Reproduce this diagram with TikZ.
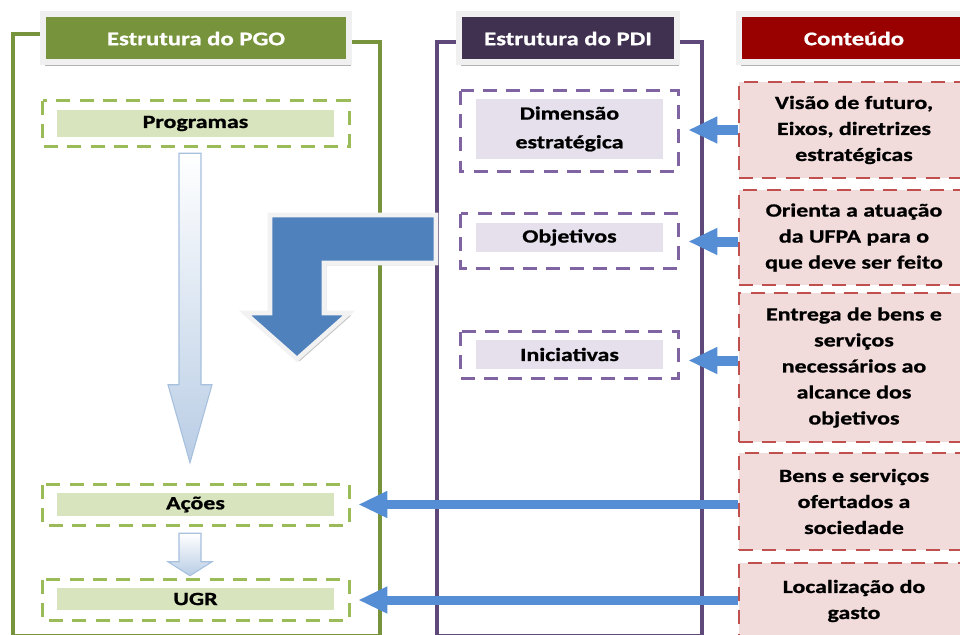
\documentclass[tikz,border=0pt]{standalone}
\usepackage{fontspec}
\setmainfont{Carlito}[FakeStretch=1.28,FakeBold=0.9]
\usetikzlibrary{arrows.meta,shadows,calc}
\definecolor{pgogreen}{HTML}{77933C}
\definecolor{lgreen}{HTML}{D7E4BD}
\definecolor{dgreen}{HTML}{9BBB59}
\definecolor{pdihead}{HTML}{403151}
\definecolor{pframe}{HTML}{5F497A}
\definecolor{lpurple}{HTML}{E5E0EC}
\definecolor{dpurple}{HTML}{8064A2}
\definecolor{redhead}{HTML}{990000}
\definecolor{lpink}{HTML}{F2DCDB}
\definecolor{dred}{HTML}{C0504D}
\definecolor{ablue}{HTML}{558ED5}
\definecolor{bentblue}{HTML}{4F81BD}
\definecolor{gradblue}{HTML}{B9CDE5}
\definecolor{gradline}{HTML}{A7C0DE}
\newcommand\bodyf{\fontsize{14}{19.5}\selectfont\bfseries}
\newcommand\hdrf{\fontsize{14.5}{17}\selectfont\bfseries}
\begin{document}
\begin{tikzpicture}[x=0.75pt,y=-0.75pt,
  gframeline/.style={draw=pgogreen,line width=2.4pt},
  pframeline/.style={draw=pframe,line width=2.4pt},
  hdr/.style={draw=black!6,line width=4.5pt,minimum height=36pt,inner sep=0pt,
    text=white,font=\hdrf,
    drop shadow={shadow xshift=1.5pt,shadow yshift=-2.5pt,fill=black,opacity=0.3}},
  gin/.style={fill=lgreen,minimum width=207.75pt,inner sep=0pt,font=\bodyf},
  pin/.style={fill=lpurple,minimum width=140.25pt,inner sep=0pt,font=\bodyf,align=center},
  gdash/.style={draw=dgreen,line width=2.2pt,dash pattern=on 10.5pt off 7pt},
  pdash/.style={draw=dpurple,line width=2.2pt,dash pattern=on 10.5pt off 7pt},
  cbox/.style={draw=dred,fill=lpink,line width=2.2pt,dash pattern=on 10.5pt off 7pt,
    minimum width=172.5pt,inner sep=0pt,align=center,font=\bodyf},
  sarrow/.style={draw=ablue,line width=7.5pt,-{Triangle[length=21.75pt,width=18.75pt]}},
  larrow/.style={draw=ablue,line width=6.75pt,-{Triangle[length=21.75pt,width=18.75pt]}},
  vgrad/.style={draw=gradline,line width=0.8pt,top color=white,bottom color=gradblue},
]
\clip (0,0) rectangle (960,635);
\fill[white] (0,0) rectangle (960,635);

% frames
\draw[gframeline] (60,34) -- (13,34) -- (13,635.5) -- (380,635.5) -- (380,42) -- (330,42);
\draw[pframeline] (480,42) -- (437,42) -- (437,635.5) -- (702,635.5) -- (702,42) -- (660,42);

% headers
\node[hdr,fill=pgogreen,minimum width=229.5pt] (hpgo) at (196,38.5) {Estrutura do PGO};
\node[hdr,fill=pdihead,minimum width=163.5pt] (hpdi) at (568,38.5) {Estrutura do PDI};
\node[hdr,fill=redhead,minimum width=172.5pt] (hcont) at (854,38.5) {Conteúdo};

% PGO boxes
\node[gin,minimum height=20.25pt] (prog) at (195.5,123.5) {Programas};
\node[gin,minimum height=17.25pt] (acoes) at (195.5,504.5) {Ações};
\node[gin,minimum height=16.5pt] (ugr) at (195.5,599) {UGR};
\draw[gdash] ([shift={(-14,-9)}]prog.north west) rectangle ([shift={(15,9)}]prog.south east);
\draw[gdash] ([shift={(-14,-8)}]acoes.north west) rectangle ([shift={(15,9)}]acoes.south east);
\draw[gdash] ([shift={(-14,-8)}]ugr.north west) rectangle ([shift={(15,10)}]ugr.south east);

% PDI boxes
\node[pin,minimum height=45pt,font=\fontsize{14}{21.5}\selectfont\bfseries] (dim) at (569.5,129) {Dimensão\\estratégica};
\node[pin,minimum height=21.75pt] (obj) at (569.5,237.5) {Objetivos};
\node[pin,minimum height=21.75pt] (ini) at (569.5,354.5) {Iniciativas};
\draw[pdash] ([shift={(-15,-8)}]dim.north west) rectangle ([shift={(15,12)}]dim.south east);
\draw[pdash] ([shift={(-15,-9)}]obj.north west) rectangle ([shift={(15,16)}]obj.south east);
\draw[pdash] ([shift={(-15,-8)}]ini.north west) rectangle ([shift={(15,9)}]ini.south east);

% Conteudo boxes
\node[cbox,minimum height=72pt] (c1) at (854,130) {Visão de futuro,\\Eixos, diretrizes\\estratégicas};
\node[cbox,minimum height=71.25pt] (c2) at (854,237.5) {Orienta a atuação\\da UFPA para o\\que deve ser feito};
\node[cbox,minimum height=111.75pt] (c3) at (854,367.5) {Entrega de bens e\\serviços\\necessários ao\\alcance dos\\objetivos};
\node[cbox,minimum height=72.75pt] (c4) at (854,501.5) {Bens e serviços\\ofertados a\\sociedade};
\node[cbox,minimum height=57pt] (c5) at (854,601) {Localização do\\gasto};

% vertical gradient arrows
\coordinate (a1top) at ($(prog.south)+(-5.5,16)$);
\coordinate (a1tip) at ($(acoes.north)+(-5.5,-30)$);
\path[vgrad] ($(a1top)+(-11,0)$) -- ($(a1top)+(11,0)$) -- ($(a1tip)+(11,-78)$) -- ($(a1tip)+(22,-78)$)
  -- (a1tip) -- ($(a1tip)+(-22,-78)$) -- ($(a1tip)+(-11,-78)$) -- cycle;
\coordinate (a2top) at ($(acoes.south)+(-5.5,17)$);
\coordinate (a2tip) at ($(ugr.north)+(-5.5,-12)$);
\path[vgrad] ($(a2top)+(-11,0)$) -- ($(a2top)+(11,0)$) -- ($(a2tip)+(11,-14)$) -- ($(a2tip)+(22,-14)$)
  -- (a2tip) -- ($(a2tip)+(-22,-14)$) -- ($(a2tip)+(-11,-14)$) -- cycle;

% bent arrow
\path[fill=bentblue,draw=black!5,line width=3.4pt,line join=miter,
  drop shadow={shadow xshift=1.8pt,shadow yshift=-1.8pt,fill=black,opacity=0.22}]
  (270,215) -- (436,215) -- (436,263) -- (324,263) -- (324,313) -- (349,313)
  -- (297,359) -- (245,313) -- (270,313) -- cycle;

% connectors
\coordinate (t1) at ([shift={(25,1)}]dim.east);
\coordinate (t2) at ([shift={(25,4)}]obj.east);
\coordinate (t3) at ([shift={(25,6)}]ini.east);
\coordinate (t4) at ([shift={(24,0)}]acoes.east);
\coordinate (t5) at ([shift={(24,1)}]ugr.east);
\draw[sarrow] (c1.west |- t1) -- (t1);
\draw[sarrow] (c2.west |- t2) -- (t2);
\draw[sarrow] (c3.west |- t3) -- (t3);
\draw[larrow] (c4.west |- t4) -- (t4);
\draw[larrow] (c5.west |- t5) -- (t5);
\end{tikzpicture}
\end{document}
